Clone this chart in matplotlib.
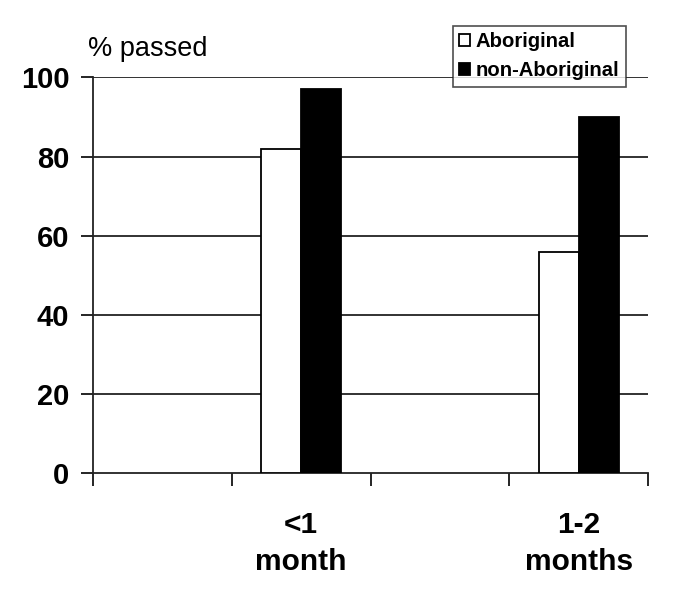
import numpy as np
import matplotlib
matplotlib.use("Agg")
import matplotlib.pyplot as plt

plt.rcParams['font.family'] = ['Liberation Sans', 'DejaVu Sans']

categories = ["", "<1\nmonth", "", "1-2\nmonths"]
aboriginal = [np.nan, 82, np.nan, 56]
non_aboriginal = [np.nan, 97, np.nan, 90]
yticks = [0, 20, 40, 60, 80, 100]

fig = plt.figure(figsize=(6.85, 5.90), dpi=100)
ax = fig.add_axes([93/685, 1-473.3/590, (648-93)/685, (473.3-77.3)/590])

x = np.arange(len(categories))
w = 0.288
ax.bar(x - w/2, aboriginal, width=w, color='white', edgecolor='black', linewidth=1.3, label='Aboriginal', zorder=3)
ax.bar(x + w/2, non_aboriginal, width=w, color='black', edgecolor='black', linewidth=1.3, label='non-Aboriginal', zorder=3)

ax.set_xlim(-0.5, len(categories) - 0.5)
ax.set_ylim(0, 100)
ax.set_yticks(yticks)
ax.set_yticklabels([str(v) for v in yticks], fontsize=21, fontweight='bold')
ax.set_xticks(np.arange(-0.5, len(categories), 1.0))
ax.set_xticklabels([])
ax.set_xticks(x, minor=True)
ax.set_xticklabels(categories, minor=True, fontsize=21.5, fontweight='bold', linespacing=1.42)
ax.tick_params(axis='x', which='minor', length=0, pad=27)
ax.tick_params(axis='x', which='major', length=9, width=1.2, direction='out')
ax.tick_params(axis='y', length=9, width=1.2, direction='out', pad=8)

for v in yticks[1:]:
    ax.axhline(v, color='#222222', linewidth=1.3, zorder=1)

for s in ['top', 'right']:
    ax.spines[s].set_visible(False)
for s in ['left', 'bottom']:
    ax.spines[s].set_linewidth(1.3)
    ax.spines[s].set_color('#222222')

fig.text(88/685, 1-56/590, "% passed", fontsize=19.5, ha='left', va='baseline')

leg = fig.legend(loc='upper left', bbox_to_anchor=(452.7/685, 1-26/590), borderaxespad=0,
                 prop={'size': 14.6, 'weight': 'bold'}, frameon=True, fancybox=False,
                 handlelength=0.55, handleheight=0.55, handletextpad=0.25,
                 labelspacing=0.48, borderpad=0.32)
leg.get_frame().set_edgecolor('#222222')
leg.get_frame().set_linewidth(1.2)
leg.set_zorder(10)

fig.savefig("out.png", dpi=100)
